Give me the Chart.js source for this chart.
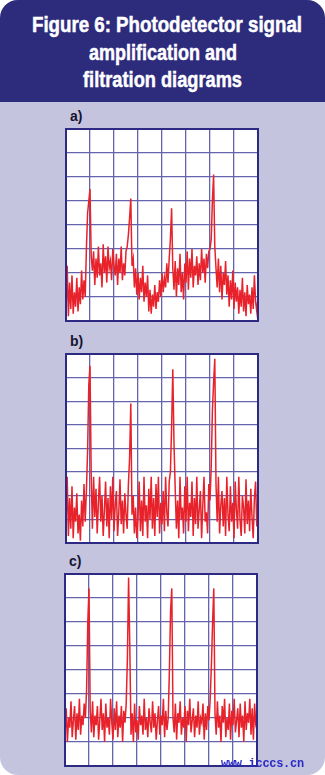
<!DOCTYPE html>
<html><head><meta charset="utf-8">
<script src="https://cdn.jsdelivr.net/npm/chart.js@4/dist/chart.umd.min.js"></script>
<style>
html,body{margin:0;padding:0;background:#fff;}
#card{position:absolute;left:0;top:0;width:325px;height:775px;background:#c5c4df;border-radius:18px;overflow:hidden;}
#head{position:absolute;left:0;top:0;width:325px;height:102px;background:#2d2b7c;}
.tl{position:absolute;white-space:nowrap;color:#fff;font-family:"Liberation Sans",Arial,sans-serif;font-weight:bold;font-size:22px;line-height:22px;transform-origin:0 0;-webkit-text-stroke:0.5px #fff;}
.lab{position:absolute;font-family:"Liberation Sans","DejaVu Sans",sans-serif;font-weight:bold;font-size:14px;color:#151530;}
canvas{position:absolute;}
#wm{position:absolute;left:221px;top:757px;font-family:"Liberation Mono","DejaVu Sans Mono",monospace;font-weight:bold;font-size:12px;color:#2a2ac4;letter-spacing:-0.3px;}
</style></head>
<body>
<div id="card">
  <div id="head">
    <div class="tl" data-l="32" data-w="270" style="top:14px;">Figure 6: Photodetector signal</div>
    <div class="tl" data-l="89" data-w="148" style="top:42px;">amplification and</div>
    <div class="tl" data-l="83" data-w="159" style="top:69px;">filtration diagrams</div>
  </div>
  <div class="lab" style="left:70px;top:108px;">a)</div>
  <div class="lab" style="left:70px;top:333px;">b)</div>
  <div class="lab" style="left:69px;top:553px;">c)</div>
  <canvas id="ca" width="196" height="196" style="left:64px;top:127px;width:196px;height:196px;"></canvas>
  <canvas id="cb" width="196" height="193" style="left:64px;top:352px;width:196px;height:193px;"></canvas>
  <canvas id="cc" width="196" height="196" style="left:63px;top:572px;width:196px;height:196px;"></canvas>
  <div id="wm">www.icccs.cn</div>
</div>
<script>
// fit title lines to their measured width in the reference
document.querySelectorAll('.tl').forEach(el=>{
  const w = el.getBoundingClientRect().width;
  el.style.left = el.dataset.l + 'px';
  el.style.transform = 'scaleX(' + (el.dataset.w / w) + ')';
});

// grid ticks (both axes), divisions 0..8
const gridTicks = [0,1,2,3,4,5,6,7,8];
// sample positions step (grid units)
const sampleStep = 0.05;

// a) raw photodetector signal
const signalA = [
 0.3,2.3,0.2,1.6,0.5,1.9,0.3,1.2,0.6,1.8,0.4,1.4,0.7,2.1,0.9,1.7,1.0,3.0,
 4.5,5.0,5.5,2.7,
 2.1,2.9,1.5,2.6,1.8,3.1,1.9,2.4,1.4,3.2,2.0,2.7,1.6,3.1,2.2,2.5,1.7,3.0,2.3,1.9,2.8,1.5,2.6,2.0,3.1,1.7,2.4,1.9,2.9,
 3.1,3.6,4.3,5.1,2.3,
 2.6,1.4,2.2,1.1,2.0,0.9,1.8,1.2,2.3,0.8,1.6,1.0,1.9,0.4,1.3,0.3,1.1,0.6,1.5,0.5,1.2,0.8,1.7,1.0,2.0,1.2,1.8,1.4,2.4,1.6,
 2.6,3.4,4.7,2.2,
 1.3,2.5,1.0,2.2,1.5,2.8,1.2,2.0,0.9,2.4,1.6,2.9,1.3,2.6,1.8,3.0,1.4,2.3,1.9,2.7,1.5,2.4,1.7,3.0,2.0,2.6,1.6,2.8,2.2,2.9,
 3.0,3.4,5.0,6.1,3.1,
 2.2,1.4,2.6,1.2,2.3,0.9,2.0,1.5,2.5,1.1,1.9,0.6,1.7,0.9,2.1,0.5,1.6,0.8,1.4,0.3,1.3,0.6,1.8,0.4,1.2,0.2,1.5,0.7,1.1,0.3,1.4,0.5,1.9,0.8,0.4,1.0
];

// b) amplified signal
const signalB = [
 0.8,2.8,0.3,1.9,0.6,2.4,0.2,1.5,0.9,2.1,0.4,1.2,0.1,1.8,0.7,2.5,0.9,2.2,
 3.9,6.7,7.5,2.9,
 0.6,2.8,1.1,2.3,0.4,1.7,2.8,0.9,2.0,0.3,1.4,2.6,0.7,1.9,0.2,2.4,1.0,2.8,0.5,1.6,2.2,0.3,1.3,2.7,0.8,1.8,0.4,2.1,1.2,
 0.6,2.5,3.6,5.9,1.2,
 2.0,0.4,1.5,0.2,1.1,2.6,0.5,1.8,0.3,2.8,0.9,1.6,0.2,2.3,1.0,2.8,0.6,1.9,0.3,2.5,1.1,2.8,0.4,1.7,0.8,2.2,0.5,2.8,1.3,0.7,2.6,3.0,
 4.9,7.35,4.2,
 2.3,0.6,1.8,0.2,2.8,1.0,1.5,0.4,2.4,0.9,2.8,0.5,1.7,1.1,2.6,0.3,1.9,0.8,2.8,0.6,1.4,2.2,0.2,1.6,2.8,0.9,1.3,0.4,2.5,1.8,
 3.2,5.6,6.8,7.8,2.5,
 0.9,2.8,0.4,1.6,2.2,0.7,1.9,0.3,2.8,1.2,0.5,2.4,0.9,1.7,0.2,2.6,1.4,0.6,2.8,1.0,0.3,2.0,1.5,0.4,2.7,0.8,1.8,0.5,2.3,1.1,0.2,1.9,2.6,0.7,1.4
];

// c) amplified and filtered signal
const signalC = [
 1.3,2.4,1.0,2.0,1.6,2.7,1.2,1.9,2.5,1.1,2.2,1.5,2.8,1.3,2.1,1.7,2.6,2.0,
 3.2,6.0,7.4,2.3,
 1.4,2.7,1.2,2.1,1.7,2.5,1.1,1.9,2.8,1.5,2.2,1.0,2.6,1.6,2.0,1.3,2.8,1.8,1.1,2.4,1.5,2.7,1.2,2.1,1.6,2.5,1.0,2.3,1.8,
 2.6,4.5,7.85,5.0,1.3,
 2.2,1.0,2.6,1.4,1.9,1.1,2.5,1.7,2.1,1.3,2.8,1.5,2.0,1.2,2.4,1.8,1.4,2.7,1.6,2.2,1.1,1.9,2.5,1.3,2.1,1.7,2.8,1.2,2.3,1.5,2.0,
 4.0,6.5,7.4,2.0,
 1.4,2.6,1.1,2.2,1.8,2.7,1.3,2.0,1.6,2.5,1.0,2.3,1.7,2.8,1.4,1.9,2.4,1.2,2.1,1.6,2.7,1.3,2.0,1.8,2.6,1.1,2.2,1.5,2.5,1.9,
 2.8,4.2,6.0,7.4,2.2,
 1.3,2.7,1.6,2.1,1.0,2.5,1.8,2.8,1.2,2.0,1.5,2.6,1.1,2.3,1.7,2.8,1.4,1.9,2.4,1.2,2.6,1.6,2.1,1.0,2.7,1.5,2.2,1.8,2.8,1.3,2.4,1.1,2.6,1.7,1.5
];

const frame = {
  id:'frame',
  beforeDraw(c){const a=c.chartArea,x=c.ctx;x.save();x.fillStyle='#ffffff';x.fillRect(a.left,a.top,a.right-a.left,a.bottom-a.top);x.restore();},
  afterDraw(c){const a=c.chartArea,x=c.ctx;x.save();x.strokeStyle='#2c2a82';x.lineWidth=2;x.strokeRect(a.left,a.top,a.right-a.left,a.bottom-a.top);x.restore();}
};

function makeChart(id, values){
  const pts = values.map((v,i)=>({x:+(i*sampleStep).toFixed(2), y:v}));
  const axis = {
    type:'linear', min:gridTicks[0], max:gridTicks[gridTicks.length-1], display:true,
    afterBuildTicks:(s)=>{s.ticks=gridTicks.map(v=>({value:v}));},
    ticks:{display:false},
    grid:{color:'#6463ad',lineWidth:1.3,drawTicks:false},
    border:{display:false}
  };
  new Chart(document.getElementById(id),{
    type:'line',
    data:{datasets:[{data:pts,borderColor:'#e8222b',borderWidth:1.5,pointRadius:0,tension:0,fill:false}]},
    options:{responsive:false,animation:false,layout:{padding:2},
      plugins:{legend:{display:false},tooltip:{enabled:false}},
      scales:{x:axis,y:axis}},
    plugins:[frame]
  });
}
makeChart('ca', signalA);
makeChart('cb', signalB);
makeChart('cc', signalC);
</script>
</body></html>
